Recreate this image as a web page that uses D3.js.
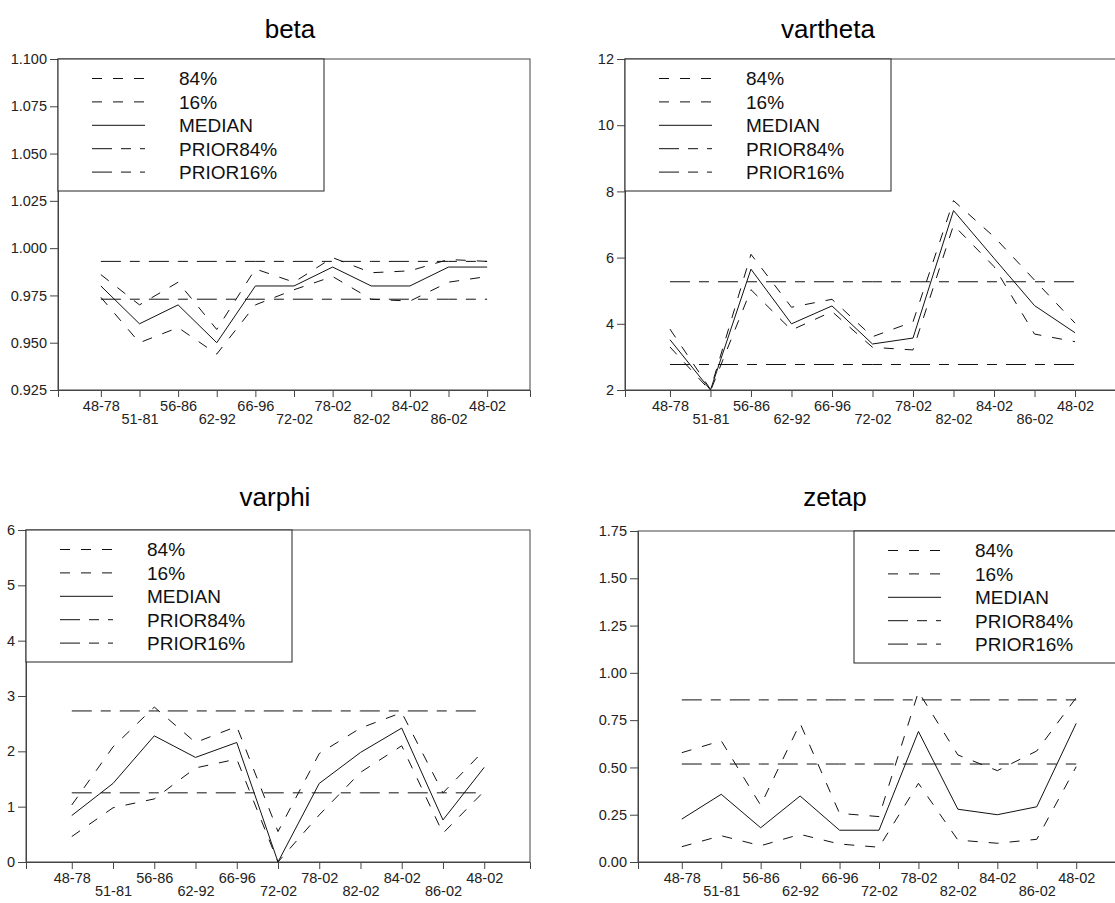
<!DOCTYPE html>
<html>
<head>
<meta charset="utf-8">
<script src="https://cdn.jsdelivr.net/npm/d3@7"></script>
<style>
  body { margin: 0; background: #fff; }
  svg { display: block; font-family: "Liberation Sans", Arial, sans-serif; }
</style>
</head>
<body>
<div id="chart"></div>
<script>
// sample windows on the x axis
const periods = ["48-78", "51-81", "56-86", "62-92", "66-96", "72-02", "78-02", "82-02", "84-02", "86-02", "48-02"];
const legendNames = ["84%", "16%", "MEDIAN", "PRIOR84%", "PRIOR16%"];

// beta
const betaP84 = [0.986, 0.970, 0.982, 0.957, 0.989, 0.982, 0.995, 0.987, 0.988, 0.994, 0.993];
const betaP16 = [0.974, 0.950, 0.958, 0.944, 0.970, 0.978, 0.985, 0.973, 0.972, 0.982, 0.985];
const betaMedian = [0.980, 0.960, 0.970, 0.950, 0.980, 0.980, 0.990, 0.980, 0.980, 0.990, 0.990];
const betaPrior = [0.993, 0.973];
const betaTicks = [0.925, 0.950, 0.975, 1.000, 1.025, 1.050, 1.075, 1.100];

// vartheta
const varthetaP84 = [3.84, 2.02, 6.10, 4.50, 4.74, 3.61, 4.06, 7.72, 6.63, 5.32, 4.02];
const varthetaP16 = [3.30, 1.97, 5.03, 3.81, 4.37, 3.29, 3.21, 6.98, 5.73, 3.69, 3.46];
const varthetaMedian = [3.52, 2.00, 5.65, 4.00, 4.54, 3.39, 3.57, 7.42, 5.98, 4.55, 3.73];
const varthetaPrior = [5.27, 2.77];
const varthetaTicks = [2, 4, 6, 8, 10, 12];

// varphi
const varphiP84 = [1.03, 2.08, 2.80, 2.16, 2.45, 0.55, 1.96, 2.42, 2.70, 1.25, 2.02];
const varphiP16 = [0.46, 0.98, 1.14, 1.70, 1.86, 0.00, 0.85, 1.62, 2.10, 0.52, 1.28];
const varphiMedian = [0.84, 1.42, 2.28, 1.89, 2.16, 0.00, 1.42, 1.98, 2.42, 0.76, 1.71];
const varphiPrior = [2.73, 1.25];
const varphiTicks = [0, 1, 2, 3, 4, 5, 6];

// zetap
const zetapP84 = [0.578, 0.641, 0.300, 0.733, 0.257, 0.240, 0.900, 0.566, 0.483, 0.587, 0.869];
const zetapP16 = [0.081, 0.139, 0.086, 0.146, 0.095, 0.078, 0.416, 0.116, 0.099, 0.120, 0.504];
const zetapMedian = [0.227, 0.358, 0.181, 0.349, 0.168, 0.168, 0.690, 0.279, 0.250, 0.292, 0.733];
const zetapPrior = [0.857, 0.518];
const zetapTicks = [0.00, 0.25, 0.50, 0.75, 1.00, 1.25, 1.50, 1.75];

const width = 1115;
const height = 903;

const svg = d3.select("#chart")
  .append("svg")
  .attr("width", width)
  .attr("height", height);

// dash styles: 84%, 16%, median, prior84, prior16
const dashes = ["10,11", "10,11", null, "20,9,10,9", "20,9,10,9"];
const lineColor = "#111";
const axisColor = "#444";

// one panel: frame box, axes, five lines, legend box
function drawPanel(p) {
  const g = svg.append("g");

  const x = d3.scalePoint()
    .domain(periods)
    .range([p.left, p.right])
    .padding(1.11);

  const y = d3.scaleLinear()
    .domain([p.ticks[0], p.ticks[p.ticks.length - 1]])
    .range([p.bottom, p.top]);

  // frame (top and right sides)
  g.append("rect")
    .attr("x", p.left)
    .attr("y", p.top)
    .attr("width", p.right - p.left)
    .attr("height", p.bottom - p.top)
    .attr("fill", "none")
    .attr("stroke", axisColor)
    .attr("stroke-width", 1);

  // y axis
  const yAxis = g.append("g")
    .attr("transform", `translate(${p.left},0)`)
    .call(d3.axisLeft(y).tickValues(p.ticks).tickFormat(d3.format(p.fmt)).tickSize(8).tickPadding(3));
  yAxis.selectAll("text").attr("font-size", "14.5px").attr("fill", "#222")
    .attr("font-family", "'Liberation Sans', Arial, sans-serif");

  // x axis, labels staggered on two rows
  const xAxis = g.append("g")
    .attr("transform", `translate(0,${p.bottom})`)
    .call(d3.axisBottom(x).tickSize(7).tickPadding(4));
  xAxis.selectAll("text")
    .attr("font-size", "14.5px").attr("fill", "#222")
    .attr("font-family", "'Liberation Sans', Arial, sans-serif")
    .attr("dy", (d, i) => i % 2 === 0 ? "0.71em" : "1.62em");

  g.selectAll(".domain, .tick line").attr("stroke", axisColor);

  // bands and median
  const series = [p.p84, p.p16, p.median];
  const line = d3.line()
    .x((d, i) => x(periods[i]))
    .y(d => y(d));

  series.forEach((s, k) => {
    g.append("path")
      .datum(s)
      .attr("d", line)
      .attr("fill", "none")
      .attr("stroke", lineColor)
      .attr("stroke-width", 1)
      .attr("stroke-dasharray", dashes[k]);
  });

  // prior bounds (flat)
  p.prior.forEach((v, k) => {
    g.append("path")
      .datum(periods.map(() => v))
      .attr("d", line)
      .attr("fill", "none")
      .attr("stroke", lineColor)
      .attr("stroke-width", 1)
      .attr("stroke-dasharray", dashes[3 + k]);
  });

  // legend
  const lw = 266, lh = 132;
  const lx = p.legendRight ? p.right - lw : p.left;
  const lg = g.append("g").attr("transform", `translate(${lx},${p.top})`);
  lg.append("rect")
    .attr("width", lw)
    .attr("height", lh)
    .attr("fill", "#fff")
    .attr("stroke", "#222")
    .attr("stroke-width", 1);

  legendNames.forEach((name, k) => {
    const ly = 19.5 + k * 23.4;
    lg.append("line")
      .attr("x1", 34).attr("x2", 87)
      .attr("y1", ly).attr("y2", ly)
      .attr("stroke", lineColor)
      .attr("stroke-width", 1)
      .attr("stroke-dasharray", dashes[k]);
    lg.append("text")
      .attr("x", 121)
      .attr("y", ly)
      .attr("dy", "0.36em")
      .attr("font-size", "19px")
      .attr("fill", "#111")
      .text(name);
  });

  // title
  svg.append("text")
    .attr("x", p.titleX)
    .attr("y", p.titleY)
    .attr("text-anchor", "middle")
    .attr("font-size", "26px")
    .attr("fill", "#000")
    .text(p.title);
}

drawPanel({title: "beta", titleX: 290, titleY: 38, left: 58, right: 530, top: 59, bottom: 390,
  ticks: betaTicks, fmt: ".3f", p84: betaP84, p16: betaP16, median: betaMedian, prior: betaPrior, legendRight: false});

drawPanel({title: "vartheta", titleX: 828, titleY: 38, left: 625, right: 1120, top: 59, bottom: 390,
  ticks: varthetaTicks, fmt: "d", p84: varthetaP84, p16: varthetaP16, median: varthetaMedian, prior: varthetaPrior, legendRight: false});

drawPanel({title: "varphi", titleX: 275, titleY: 506, left: 26, right: 530, top: 530, bottom: 862,
  ticks: varphiTicks, fmt: "d", p84: varphiP84, p16: varphiP16, median: varphiMedian, prior: varphiPrior, legendRight: false});

drawPanel({title: "zetap", titleX: 835, titleY: 506, left: 638, right: 1120, top: 531, bottom: 862,
  ticks: zetapTicks, fmt: ".2f", p84: zetapP84, p16: zetapP16, median: zetapMedian, prior: zetapPrior, legendRight: true});
</script>
</body>
</html>
